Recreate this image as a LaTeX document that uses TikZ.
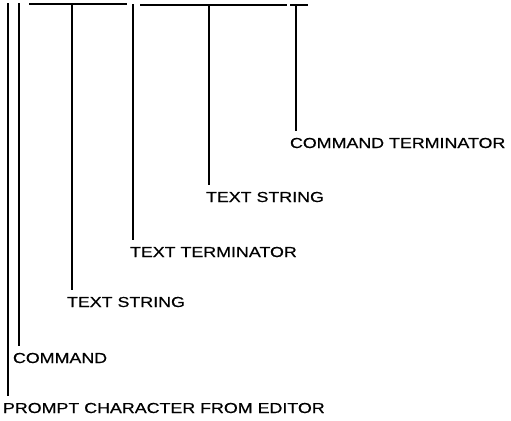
\documentclass[tikz,border=0pt]{standalone}
\usepackage{fontspec}
\setmainfont[FakeStretch=1.23,FakeBold=0.6]{Liberation Sans}
\begin{document}
\begin{tikzpicture}[x=1bp,y=-1bp,
  lab/.style={anchor=base west,inner sep=0pt,outer sep=0pt,font=\fontsize{14.5bp}{16bp}\selectfont,text height=10.4bp},
  ln/.style={line width=1.2bp,shorten >=7bp}]
\useasboundingbox (0,0) rectangle (511,420);
% labels
\node[lab] (l1) at (3,413) {PROMPT CHARACTER FROM EDITOR};
\node[lab] (l2) at (13,363) {COMMAND};
\node[lab] (l3) at (67,307) {TEXT STRING};
\node[lab] (l4) at (130,257) {TEXT TERMINATOR};
\node[lab] (l5) at (206,202) {TEXT STRING};
\node[lab] (l6) at (290,148) {COMMAND TERMINATOR};
% tops
\coordinate (t1) at (8,3);
\coordinate (t2) at (19,3);
\coordinate (t3) at (72,4);
\coordinate (t4) at (133,4);
\coordinate (t5) at (209,5);
\coordinate (t6) at (296,5);
\coordinate (h1a) at (29,4);
\coordinate (h1b) at (127,4);
\coordinate (h2a) at (140,5);
\coordinate (h2b) at (287,5);
\coordinate (h3a) at (290,5);
\coordinate (h3b) at (308,5);
\draw[line width=1.2bp] (h1a) -- (h1b) (h2a) -- (h2b) (h3a) -- (h3b);
\draw[ln] (t1) -- (t1 |- l1.north);
\draw[ln] (t2) -- (t2 |- l2.north);
\draw[ln] (t3) -- (t3 |- l3.north);
\draw[ln] (t4) -- (t4 |- l4.north);
\draw[ln] (t5) -- (t5 |- l5.north);
\draw[ln] (t6) -- (t6 |- l6.north);
\end{tikzpicture}
\end{document}
